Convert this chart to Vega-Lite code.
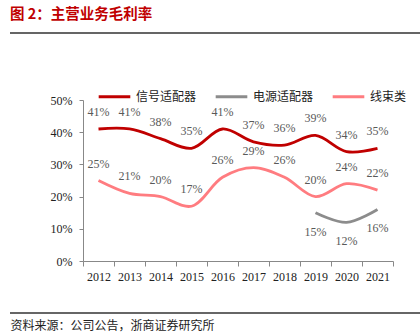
{
  "$schema": "https://vega.github.io/schema/vega-lite/v6.json",
  "width": 310,
  "height": 161,
  "autosize": {"type": "none"},
  "padding": {"left": 83, "top": 100, "right": 27, "bottom": 75},
  "background": "white",
  "title": {
    "text": "图 2：主营业务毛利率",
    "anchor": "start",
    "frame": "group",
    "orient": "top",
    "dx": -73,
    "offset": 10,
    "font": "Noto Sans CJK SC",
    "fontSize": 14.5,
    "fontWeight": "bold",
    "color": "#C00000"
  },
  "config": {
    "view": {"stroke": null},
    "axis": {
      "grid": false,
      "domainColor": "#888888",
      "tickColor": "#888888",
      "labelFont": "Liberation Serif",
      "labelFontSize": 12,
      "labelColor": "#222222"
    }
  },
  "data": {
    "values": [
      {"year": "2012", "series": "信号适配器", "value": 0.41},
      {"year": "2013", "series": "信号适配器", "value": 0.41},
      {"year": "2014", "series": "信号适配器", "value": 0.38},
      {"year": "2015", "series": "信号适配器", "value": 0.35},
      {"year": "2016", "series": "信号适配器", "value": 0.41},
      {"year": "2017", "series": "信号适配器", "value": 0.37},
      {"year": "2018", "series": "信号适配器", "value": 0.36},
      {"year": "2019", "series": "信号适配器", "value": 0.39},
      {"year": "2020", "series": "信号适配器", "value": 0.34},
      {"year": "2021", "series": "信号适配器", "value": 0.35},
      {"year": "2019", "series": "电源适配器", "value": 0.15},
      {"year": "2020", "series": "电源适配器", "value": 0.12},
      {"year": "2021", "series": "电源适配器", "value": 0.16},
      {"year": "2012", "series": "线束类", "value": 0.25},
      {"year": "2013", "series": "线束类", "value": 0.21},
      {"year": "2014", "series": "线束类", "value": 0.20},
      {"year": "2015", "series": "线束类", "value": 0.17},
      {"year": "2016", "series": "线束类", "value": 0.26},
      {"year": "2017", "series": "线束类", "value": 0.29},
      {"year": "2018", "series": "线束类", "value": 0.26},
      {"year": "2019", "series": "线束类", "value": 0.20},
      {"year": "2020", "series": "线束类", "value": 0.24},
      {"year": "2021", "series": "线束类", "value": 0.22}
    ]
  },
  "encoding": {
    "x": {
      "field": "year",
      "type": "ordinal",
      "bandPosition": 0.5,
      "scale": {"type": "band", "paddingInner": 0, "paddingOuter": 0},
      "axis": {
        "title": "资料来源：公司公告，浙商证券研究所",
        "titleFont": "Noto Sans CJK SC",
        "titleFontSize": 12,
        "titleFontWeight": "normal",
        "titleColor": "#222222",
        "titleAnchor": "start",
        "titleAlign": "left",
        "titleBaseline": "middle",
        "titleX": -73,
        "titleY": 64,
        "labelAngle": 0,
        "labelPadding": 5,
        "tickBand": "extent",
        "tickSize": 5
      }
    },
    "y": {
      "field": "value",
      "type": "quantitative",
      "scale": {"domain": [0, 0.5]},
      "axis": {
        "title": null,
        "format": ".0%",
        "values": [0, 0.1, 0.2, 0.3, 0.4, 0.5],
        "tickSize": 4,
        "labelPadding": 7
      }
    }
  },
  "layer": [
    {
      "mark": {"type": "line", "interpolate": "catmull-rom", "strokeWidth": 2.8},
      "encoding": {
        "color": {
          "field": "series",
          "type": "nominal",
          "scale": {
            "domain": ["信号适配器", "电源适配器", "线束类"],
            "range": ["#C00000", "#8C8C8C", "#FF7C80"]
          },
          "legend": {
            "title": null,
            "orient": "none",
            "direction": "horizontal",
            "legendX": 14,
            "legendY": -21,
            "symbolType": "stroke",
            "symbolSize": 1000,
            "symbolStrokeWidth": 3,
            "labelFont": "Noto Sans CJK SC",
            "labelFontSize": 12,
            "labelColor": "#222222",
            "labelOffset": 4,
            "columnPadding": 12
          }
        }
      }
    },
    {
      "transform": [{"filter": "datum.series !== '电源适配器'"}],
      "mark": {"type": "text", "dy": -17, "font": "Liberation Serif", "fontSize": 12, "color": "#595959"},
      "encoding": {"text": {"field": "value", "type": "quantitative", "format": ".0%"}}
    },
    {
      "transform": [{"filter": "datum.series === '电源适配器'"}],
      "mark": {"type": "text", "dy": 19, "font": "Liberation Serif", "fontSize": 12, "color": "#595959"},
      "encoding": {"text": {"field": "value", "type": "quantitative", "format": ".0%"}}
    },
    {
      "mark": {"type": "rule", "color": "#666666", "strokeWidth": 1.5},
      "encoding": {
        "x": {"value": -73},
        "x2": {"value": 337},
        "y": {"value": -67}
      }
    },
    {
      "mark": {"type": "rule", "color": "#666666", "strokeWidth": 1},
      "encoding": {
        "x": {"value": -73},
        "x2": {"value": 337},
        "y": {"value": 213}
      }
    }
  ]
}
